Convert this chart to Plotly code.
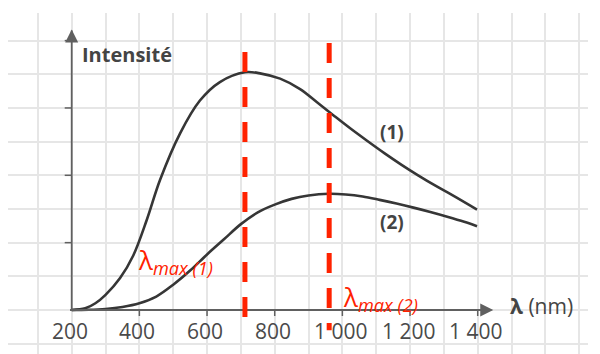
import plotly.graph_objects as go

# ---- data ----
lam1 = [200, 240, 270, 300, 343, 382, 422, 461, 520, 579, 638, 712, 760, 816, 875, 925,
        975, 1025, 1075, 1125, 1175, 1225, 1275, 1325, 1398]
int1 = [0.0, 0.05, 0.2, 0.45, 0.95, 1.62, 2.68, 3.86, 5.24, 6.22, 6.77, 7.06, 7.02, 6.87,
        6.56, 6.17, 5.77, 5.38, 5.01, 4.65, 4.31, 3.99, 3.69, 3.41, 2.98]

lam2 = [200, 250, 300, 350, 400, 450, 500, 550, 600, 650, 700, 750, 800, 850, 900, 960,
        1010, 1060, 1110, 1160, 1210, 1260, 1310, 1360, 1398]
int2 = [0.0, 0.005, 0.03, 0.09, 0.2, 0.4, 0.75, 1.17, 1.65, 2.1, 2.55, 2.9, 3.13, 3.3, 3.4,
        3.45, 3.43, 3.37, 3.27, 3.16, 3.04, 2.91, 2.77, 2.62, 2.49]

lambda_max = [712, 961]
lambda_max_labels = ["λ<sub><i>max (1)</i></sub>", "λ<sub><i>max (2)</i></sub>"]

x_ticks = [200, 400, 600, 800, 1000, 1200, 1400]
x_tick_labels = ["200", "400", "600", "800", "1 000", "1 200", "1 400"]
y_ticks = [2, 4, 6, 8]

curve_labels = ["(1)", "(2)"]

CURVE = "#363636"
AXIS = "#606060"
RED = "#ff2200"

fig = go.Figure()
for lx, ly in ((lam1, int1), (lam2, int2)):
    fig.add_trace(go.Scatter(x=lx, y=ly, mode="lines",
                             line=dict(color=CURVE, width=2.6, shape="spline", smoothing=1.0),
                             hoverinfo="skip", showlegend=False))

# axis arrowheads
fig.add_trace(go.Scatter(x=[1446], y=[0], mode="markers",
                         marker=dict(symbol="arrow-right", size=13, color=AXIS, line=dict(width=0)),
                         hoverinfo="skip", showlegend=False, cliponaxis=False))
fig.add_trace(go.Scatter(x=[200], y=[8.33], mode="markers",
                         marker=dict(symbol="arrow-up", size=13, color=AXIS, line=dict(width=0)),
                         hoverinfo="skip", showlegend=False, cliponaxis=False))

shapes = []
# axis lines
shapes.append(dict(type="line", xref="x", yref="y", x0=195, x1=1440, y0=0, y1=0,
                   line=dict(color=AXIS, width=1.8)))
shapes.append(dict(type="line", xref="x", yref="y", x0=200, x1=200, y0=0, y1=8.3,
                   line=dict(color=AXIS, width=1.8)))
# red dashed lambda max lines
shapes.append(dict(type="line", xref="x", yref="y", x0=lambda_max[0], x1=lambda_max[0],
                   y0=7.66, y1=-0.25, line=dict(color=RED, width=5, dash="20px,15px"), layer="above"))
shapes.append(dict(type="line", xref="x", yref="y", x0=lambda_max[1], x1=lambda_max[1],
                   y0=7.93, y1=-0.6, line=dict(color=RED, width=5, dash="20px,15px"), layer="above"))
# y ticks
for t in y_ticks:
    shapes.append(dict(type="line", xref="x", yref="y", xsizemode="pixel", xanchor=200,
                       x0=-7, x1=0, y0=t, y1=t, line=dict(color=AXIS, width=1.5)))
# x ticks
for t in x_ticks[1:]:
    shapes.append(dict(type="line", xref="x", yref="y", ysizemode="pixel", yanchor=0,
                       y0=-6, y1=0, x0=t, x1=t, line=dict(color=AXIS, width=1.5)))

annotations = []
# tick labels
for t, lab in zip(x_ticks, x_tick_labels):
    annotations.append(dict(x=t, y=0, xref="x", yref="y", text=lab, showarrow=False,
                            yanchor="top", yshift=-5, xshift=-2,
                            font=dict(family="Open Sans", size=21, color="#4a4a4a")))
annotations.append(dict(x=1490, y=0, xref="x", yref="y", text="<b>λ</b> (nm)", showarrow=False,
                        xanchor="left", yanchor="middle", yshift=4,
                        font=dict(family="Open Sans", size=21, color="#444444")))
annotations.append(dict(x=225, y=7.6, xref="x", yref="y", text="<b>Intensité</b>", showarrow=False,
                        xanchor="left", yanchor="middle",
                        font=dict(family="Open Sans", size=20, color="#444444")))
# curve labels
annotations.append(dict(x=1147, y=5.29, xref="x", yref="y", text="<b>" + curve_labels[0] + "</b>",
                        showarrow=False, font=dict(family="Open Sans", size=19, color="#444444")))
annotations.append(dict(x=1147, y=2.61, xref="x", yref="y", text="<b>" + curve_labels[1] + "</b>",
                        showarrow=False, font=dict(family="Open Sans", size=19, color="#444444")))
# lambda max labels
annotations.append(dict(x=391, y=1.45, xref="x", yref="y", text=lambda_max_labels[0],
                        showarrow=False, xanchor="left", yanchor="middle",
                        font=dict(family="Open Sans", size=26, color=RED)))
annotations.append(dict(x=997, y=0.35, xref="x", yref="y", text=lambda_max_labels[1],
                        showarrow=False, xanchor="left", yanchor="middle",
                        font=dict(family="Open Sans", size=26, color=RED)))

fig.update_layout(
    width=600, height=354,
    margin=dict(l=8, r=12, t=13, b=0),
    paper_bgcolor="white", plot_bgcolor="white",
    shapes=shapes, annotations=annotations,
    xaxis=dict(range=[11.7, 1726], tick0=0, dtick=100, showgrid=True, gridcolor="#e6e6e6",
               gridwidth=1.5, zeroline=False, showline=False, showticklabels=False, ticks=""),
    yaxis=dict(range=[-1.307, 8.82], tick0=0, dtick=1, showgrid=True, gridcolor="#e6e6e6",
               gridwidth=1.5, zeroline=False, showline=False, showticklabels=False, ticks=""),
    showlegend=False,
)

fig.write_html("out.html")
